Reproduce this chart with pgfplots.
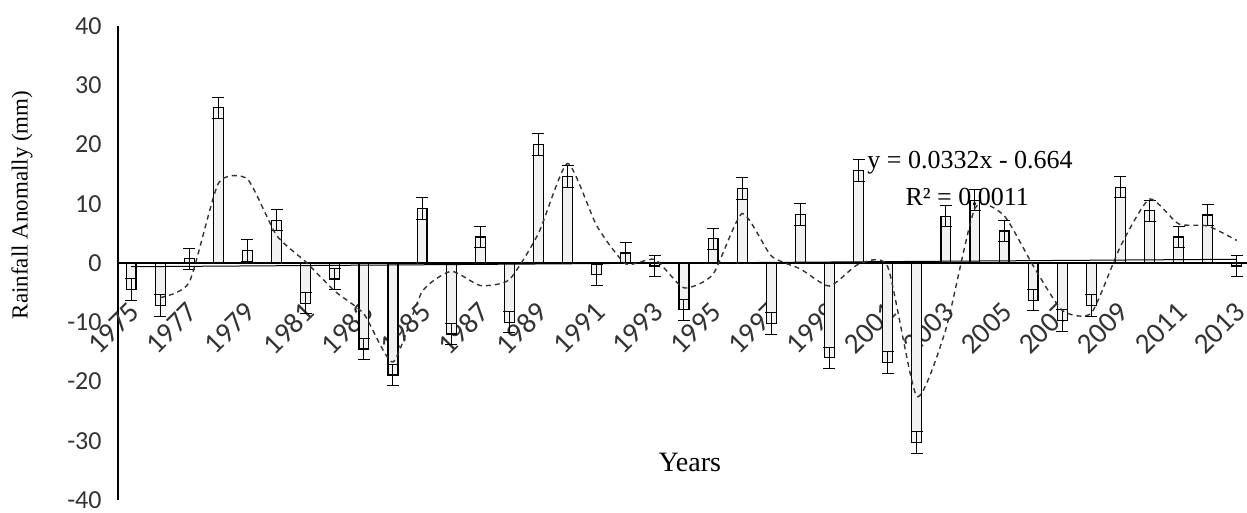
\documentclass[border=0pt]{standalone}
\usepackage{fontspec}
\setmainfont{Liberation Serif}
\newfontfamily\carlito{Carlito}
\usepackage{pgfplots}
\pgfplotsset{compat=1.18}
\usepackage{pgfplotstable}

\pgfplotstableread{
x y e
1975 -4.5 1.8
1976 -7.2 1.8
1977 0.7 1.8
1978 26.2 1.8
1979 2.1 1.8
1980 7.2 1.8
1981 -6.8 1.8
1982 -2.7 1.8
1983 -14.5 1.8
1984 -18.9 1.8
1985 9.2 1.8
1986 -12.0 1.8
1987 4.4 1.8
1988 -10.0 1.8
1989 20.0 1.8
1990 14.6 1.8
1991 -2.0 1.8
1992 1.7 1.8
1993 -0.5 1.8
1994 -7.9 1.8
1995 4.1 1.8
1996 12.6 1.8
1997 -10.2 1.8
1998 8.2 1.8
1999 -16.0 1.8
2000 15.6 1.8
2001 -16.8 1.8
2002 -30.3 1.8
2003 7.9 1.8
2004 10.6 1.8
2005 5.4 1.8
2006 -6.3 1.8
2007 -9.7 1.8
2008 -7.2 1.8
2009 12.8 1.8
2010 8.8 1.8
2011 4.4 1.8
2012 8.1 1.8
2013 -0.5 1.8
}\bars

\pgfplotstableread{
x y
1976 -5.85
1977 -3.25
1978 13.45
1979 14.15
1980 4.65
1981 0.2
1982 -4.75
1983 -8.6
1984 -16.7
1985 -4.85
1986 -1.4
1987 -3.8
1988 -2.8
1989 5.0
1990 16.8
1991 6.3
1992 -0.15
1993 0.6
1994 -4.2
1995 -1.9
1996 8.35
1997 1.2
1998 -1.0
1999 -3.9
2000 -0.2
2001 -0.6
2002 -22.5
2003 -11.2
2004 9.25
2005 8.0
2006 -0.45
2007 -8.0
2008 -8.45
2009 2.8
2010 10.8
2011 6.6
2012 6.25
2013 3.8
}\mavg

\begin{document}
\begin{tikzpicture}
\begin{axis}[
  name=ax, at={(0,0)}, anchor=south west,
  scale only axis, width=564.5pt, height=237pt,
  xmin=1974.55, xmax=2013.35, ymin=-40, ymax=40,
  axis x line=middle, axis y line=left,
  axis line style={-, black, line width=0.6pt},
  xtick={1974.88,1976.88,1978.88,1980.88,1982.88,1984.88,1986.88,1988.88,1990.88,1992.88,1994.88,1996.88,1998.88,2000.88,2002.88,2004.88,2006.88,2008.88,2010.88,2012.88},
  xticklabels={1975,1977,1979,1981,1983,1985,1987,1989,1991,1993,1995,1997,1999,2001,2003,2005,2007,2009,2011,2013},
  ytick={-40,-30,...,40},
  major tick length=0pt,
  hide obscured x ticks=false, hide obscured y ticks=false,
  /pgf/number format/assume math mode=true,
  /pgf/number format/1000 sep={},
  xticklabel shift=18.5pt,
  xticklabel style={font=\carlito\fontsize{14.5}{16}\selectfont, text=black!80, inner sep=0pt, rotate=45, anchor=north east},
  yticklabel style={font=\carlito\fontsize{13}{15}\selectfont, text=black!80, anchor=east, inner sep=0pt},
  yticklabel shift=8pt,
  bar width=0.34,
  clip=false,
]
\addplot[ybar, fill=gray!10, draw=black, line width=0.6pt,
  error bars/.cd, y dir=both, y explicit,
  error bar style={black, line width=0.5pt},
  error mark options={rotate=90, mark size=3pt, black, line width=0.5pt}]
  table[x=x, y=y, y error=e]{\bars};
\addplot[black, line width=0.5pt] coordinates {(1975,-0.631) (2013,0.631)};
\addplot[black!80, dash pattern=on 2.5pt off 2pt, line width=0.7pt, smooth, tension=0.35]
  table[x=x, y=y]{\mavg};
\node[font=\fontsize{14}{16}\selectfont] at (axis cs:1994.2,-33.6) {Years};
\node[anchor=west, inner sep=0pt, font=\fontsize{13}{15}\selectfont] at (axis cs:2000.29,17.0) {y = 0.0332x - 0.664};
\node[anchor=west, inner sep=0pt, font=\fontsize{13}{15}\selectfont] at (axis cs:2001.6,11.1) {R² = 0.0011};
\node[xshift=-48pt, rotate=90, font=\fontsize{11.5}{13}\selectfont] at (axis cs:1974.55,9.8) {Rainfall Anomally (mm)};
\end{axis}
\pgfresetboundingbox
\path[use as bounding box] (-59pt,-6.5pt) rectangle (564.5pt,250pt);
\end{tikzpicture}
\end{document}
